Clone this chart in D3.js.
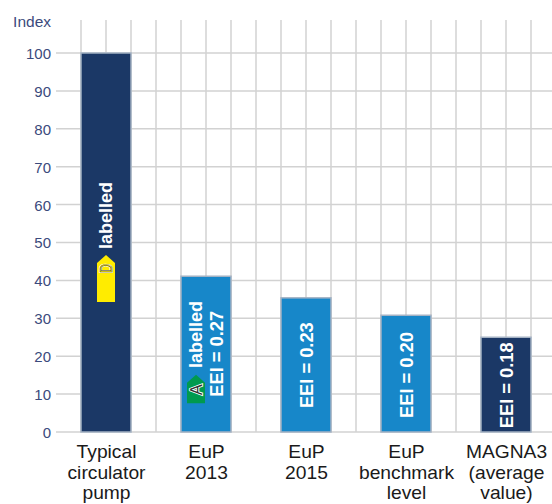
<!DOCTYPE html>
<html><head><meta charset="utf-8">
<script src="https://cdnjs.cloudflare.com/ajax/libs/d3/7.8.5/d3.min.js"></script>
<style>html,body{margin:0;padding:0;background:#fff}svg{display:block}text{font-family:"Liberation Sans",Arial,sans-serif}</style>
</head><body><svg id="c" width="552" height="504"></svg>
<script>
const categories = ["Typical circulator pump","EuP 2013","EuP 2015","EuP benchmark level","MAGNA3 (average value)"];
const categoryLines = [["Typical","circulator","pump"],["EuP","2013"],["EuP","2015"],["EuP","benchmark","level"],["MAGNA3","(average","value)"]];
const values = [100,41.1,35.4,30.8,25];
const barKinds = ["dark","light","light","light","dark"];
const eeiLabels = [null,"EEI = 0.27","EEI = 0.23","EEI = 0.20","EEI = 0.18"];
const eeiStart = [null,9.3,6.3,3.7,1];
const labelledStart = [48.3,16.9,null,null,null];
const energyClass = ["D","A",null,null,null];
const badgeRange = [[34.3,46.7],[7.6,15.1],null,null,null];
const yTicks = [0,10,20,30,40,50,60,70,80,90,100];

const colors = {dark:"#1b3866",light:"#1787c9"};
const badgeColor = {D:"#ffec00",A:"#009a4e"};
const svg = d3.select("#c");
const x = d3.scaleBand().domain(categories).range([81,531]).paddingInner(0.5).paddingOuter(0);
const y = d3.scaleLinear().domain([0,100]).range([432,53]);
const gridColor = "#d2d2d2";

const yAxis = d3.axisLeft(y).tickValues(yTicks).tickSize(0).tickPadding(0);
const gy = svg.append("g").attr("transform","translate(51,0)").call(yAxis);
gy.select(".domain").remove();
gy.selectAll("text").attr("font-size",15).attr("fill","#3b4a7c").attr("dy","0.36em");
svg.append("g").selectAll("line").data(yTicks).join("line")
  .attr("x1",56).attr("x2",552).attr("y1",d=>y(d)).attr("y2",d=>y(d))
  .attr("stroke",gridColor).attr("stroke-width",1.5);
const vx = categories.flatMap(c=>[x(c),x(c)+x.bandwidth()/2,x(c)+x.bandwidth(),x(c)+x.bandwidth()*1.5]).slice(0,-1);
svg.append("g").selectAll("line").data(vx).join("line")
  .attr("x1",d=>d).attr("x2",d=>d).attr("y1",20).attr("y2",y(0))
  .attr("stroke",gridColor).attr("stroke-width",1.5);

svg.append("text").text("Index").attr("x",51).attr("y",27).attr("text-anchor","end")
  .attr("font-size",15.5).attr("fill","#3b4a7c");

svg.append("g").selectAll("rect").data(categories).join("rect")
  .attr("x",d=>x(d)).attr("width",x.bandwidth())
  .attr("y",(d,i)=>y(values[i])).attr("height",(d,i)=>y(0)-y(values[i]))
  .attr("fill",(d,i)=>colors[barKinds[i]])
  .attr("stroke","#a4b2c4").attr("stroke-width",1.5);

categories.forEach((c,i)=>{
  const cx = x(c)+x.bandwidth()/2;
  const t = svg.append("text").attr("text-anchor","middle").attr("font-size",18.5).attr("fill","#1a1a1a")
    .attr("transform",`translate(${cx+0.5},0) scale(1.04,1)`);
  categoryLines[i].forEach((l,j)=>t.append("tspan").text(l).attr("x",0).attr("y",458+j*20.7));
});

function vText(s,px,val,size){
  return svg.append("text").text(s).attr("transform",`translate(${px},${y(val)}) rotate(-90) scale(1,1.04)`)
   .attr("font-size",size).attr("font-weight","bold").attr("fill","#fff");
}
categories.forEach((c,i)=>{
  const cx = x(c)+x.bandwidth()/2;
  if(eeiLabels[i]){
    const off = i===1 ? 17 : 6.5;
    vText(eeiLabels[i],cx+off,eeiStart[i],18.3);
  }
  if(labelledStart[i]!==null){
    vText("labelled",i===0?cx+6:cx-4,labelledStart[i],18);
  }
  if(energyClass[i]){
    const k = energyClass[i], r = badgeRange[i];
    const bx = i===0?cx:cx-10, hw = 9;
    const yb=y(r[0]), yt=y(r[1]), ys=yt+8;
    svg.append("path").attr("d",d3.line()([[bx-hw,yb],[bx-hw,ys],[bx,yt],[bx+hw,ys],[bx+hw,yb]])+"Z").attr("fill",badgeColor[k]);
    const tf = `translate(${bx+6},${k==="D"?273:395}) rotate(-90) scale(${k==="D"?0.8:1},1)`;
    svg.append("text").text(k).attr("transform",tf).attr("font-size",16)
      .attr("fill","none").attr("stroke","#fff").attr("stroke-width",1.8);
    svg.append("text").text(k).attr("transform",tf).attr("font-size",16)
      .attr("fill",k==="D"?"#ffec00":"#333").attr("stroke",k==="D"?"#333":"none").attr("stroke-width",0.5);
  }
});
</script></body></html>
